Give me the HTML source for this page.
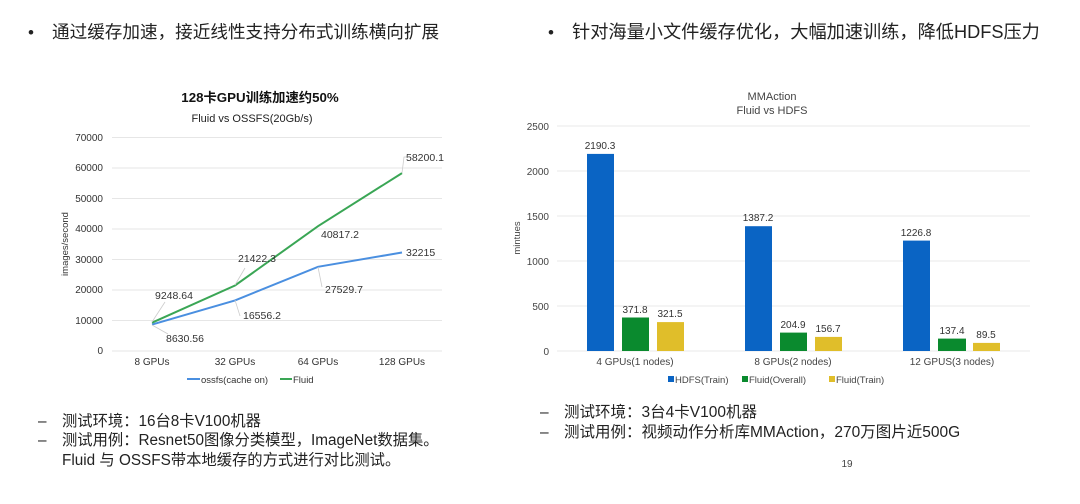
<!DOCTYPE html>
<html><head><meta charset="utf-8"><style>
html,body{margin:0;padding:0;background:#fff;}
svg{display:block;font-family:"Liberation Sans","Noto Sans CJK SC",sans-serif;}
</style></head><body>
<svg width="1080" height="504" viewBox="0 0 1080 504" xmlns="http://www.w3.org/2000/svg">
<rect width="1080" height="504" fill="#fff"/>
<!-- headers -->
<g fill="#222">
<text x="28" y="38" font-size="17">•</text>
<text x="52" y="38" font-size="17.6">通过缓存加速，接近线性支持分布式训练横向扩展</text>
<text x="548" y="38" font-size="17">•</text>
<text x="572" y="38" font-size="18.2">针对海量小文件缓存优化，大幅加速训练，降低HDFS压力</text>
</g>
<!-- left chart -->
<text x="260" y="102" font-size="13.3" font-weight="bold" text-anchor="middle" fill="#111">128卡GPU训练加速约50%</text>
<text x="252" y="122" font-size="11" text-anchor="middle" fill="#222">Fluid vs OSSFS(20Gb/s)</text>
<g stroke="#e6e6e6" stroke-width="1">
<line x1="112" x2="442" y1="137.5" y2="137.5"/><line x1="112" x2="442" y1="168" y2="168"/>
<line x1="112" x2="442" y1="198.5" y2="198.5"/><line x1="112" x2="442" y1="229" y2="229"/>
<line x1="112" x2="442" y1="259.5" y2="259.5"/><line x1="112" x2="442" y1="290" y2="290"/>
<line x1="112" x2="442" y1="320.5" y2="320.5"/><line x1="112" x2="442" y1="351" y2="351"/>
</g>
<g font-size="10" fill="#333" text-anchor="end">
<text x="103" y="141">70000</text><text x="103" y="171">60000</text><text x="103" y="202">50000</text>
<text x="103" y="232">40000</text><text x="103" y="263">30000</text><text x="103" y="293">20000</text>
<text x="103" y="324">10000</text><text x="103" y="354">0</text>
</g>
<text transform="translate(68,244) rotate(-90)" font-size="9.5" fill="#333" text-anchor="middle">images/second</text>
<g font-size="10" fill="#333" text-anchor="middle">
<text x="152" y="365">8 GPUs</text><text x="235" y="365">32 GPUs</text>
<text x="318" y="365">64 GPUs</text><text x="402" y="365">128 GPUs</text>
</g>
<polyline points="152,324.6 235,300.4 318,266.8 402,252.5" fill="none" stroke="#4a8fe0" stroke-width="2"/>
<polyline points="152,322.7 235,285.5 318,226.2 402,173.1" fill="none" stroke="#3aa655" stroke-width="2"/>
<g stroke="#ccc" stroke-width="0.8" fill="none">
<line x1="152" y1="322" x2="165" y2="302"/><line x1="152" y1="325" x2="168" y2="334"/>
<line x1="235" y1="285" x2="245" y2="268"/><line x1="235" y1="300" x2="240" y2="316"/>
<line x1="318" y1="267" x2="322" y2="287"/><polyline points="402,173 404,157 407,157"/>
</g>
<g font-size="10.5" fill="#333">
<text x="155" y="299">9248.64</text><text x="166" y="342">8630.56</text>
<text x="238" y="262">21422.3</text><text x="243" y="319">16556.2</text>
<text x="321" y="238">40817.2</text><text x="325" y="293">27529.7</text>
<text x="406" y="161">58200.1</text><text x="406" y="256">32215</text>
</g>
<line x1="187" x2="200" y1="379" y2="379" stroke="#4a8fe0" stroke-width="2"/>
<text x="201" y="383" font-size="9.5" fill="#333">ossfs(cache on)</text>
<line x1="280" x2="292" y1="379" y2="379" stroke="#3aa655" stroke-width="2"/>
<text x="293" y="383" font-size="9.5" fill="#333">Fluid</text>
<!-- left notes -->
<g font-size="15.3" fill="#222">
<text x="38" y="426">–</text><text x="62" y="426">测试环境：16台8卡V100机器</text>
<text x="38" y="445">–</text><text x="62" y="445">测试用例：Resnet50图像分类模型，ImageNet数据集。</text>
<text x="62" y="465">Fluid 与 OSSFS带本地缓存的方式进行对比测试。</text>
</g>
<!-- right chart -->
<text x="772" y="100" font-size="11" text-anchor="middle" fill="#444">MMAction</text>
<text x="772" y="114" font-size="11" text-anchor="middle" fill="#444">Fluid vs HDFS</text>
<g stroke="#e8e8e8" stroke-width="1">
<line x1="557" x2="1030" y1="126" y2="126"/><line x1="557" x2="1030" y1="171" y2="171"/>
<line x1="557" x2="1030" y1="216" y2="216"/><line x1="557" x2="1030" y1="261" y2="261"/>
<line x1="557" x2="1030" y1="306" y2="306"/><line x1="557" x2="1030" y1="351" y2="351"/>
</g>
<g font-size="10" fill="#444" text-anchor="end">
<text x="549" y="130">2500</text><text x="549" y="175">2000</text><text x="549" y="220">1500</text>
<text x="549" y="265">1000</text><text x="549" y="310">500</text><text x="549" y="355">0</text>
</g>
<text transform="translate(520,238) rotate(-90)" font-size="9.5" fill="#444" text-anchor="middle">mintues</text>
<g fill="#0a64c4">
<rect x="587" y="153.9" width="27" height="197.1"/><rect x="745" y="226.2" width="27" height="124.8"/><rect x="903" y="240.6" width="27" height="110.4"/>
</g>
<g fill="#0a8a2e">
<rect x="622" y="317.5" width="27" height="33.5"/><rect x="780" y="332.6" width="27" height="18.4"/><rect x="938" y="338.6" width="28" height="12.4"/>
</g>
<g fill="#e0be2a">
<rect x="657" y="322.1" width="27" height="28.9"/><rect x="815" y="336.9" width="27" height="14.1"/><rect x="973" y="342.9" width="27" height="8.1"/>
</g>
<g font-size="10" fill="#333" text-anchor="middle">
<text x="600" y="149">2190.3</text><text x="635" y="313">371.8</text><text x="670" y="317">321.5</text>
<text x="758" y="221">1387.2</text><text x="793" y="328">204.9</text><text x="828" y="332">156.7</text>
<text x="916" y="236">1226.8</text><text x="952" y="334">137.4</text><text x="986" y="338">89.5</text>
</g>
<g font-size="10" fill="#444" text-anchor="middle">
<text x="635" y="365">4 GPUs(1 nodes)</text><text x="793" y="365">8 GPUs(2 nodes)</text><text x="952" y="365">12 GPUS(3 nodes)</text>
</g>
<g font-size="9.5" fill="#444">
<rect x="668" y="376" width="6" height="6" fill="#0a64c4"/><text x="675" y="383">HDFS(Train)</text>
<rect x="742" y="376" width="6" height="6" fill="#0a8a2e"/><text x="749" y="383">Fluid(Overall)</text>
<rect x="829" y="376" width="6" height="6" fill="#e0be2a"/><text x="836" y="383">Fluid(Train)</text>
</g>
<!-- right notes -->
<g font-size="15.5" fill="#222">
<text x="540" y="417">–</text><text x="564" y="417">测试环境：3台4卡V100机器</text>
<text x="540" y="437">–</text><text x="564" y="437">测试用例：视频动作分析库MMAction，270万图片近500G</text>
</g>
<text x="847" y="467" font-size="10" fill="#444" text-anchor="middle">19</text>
</svg>
</body></html>
